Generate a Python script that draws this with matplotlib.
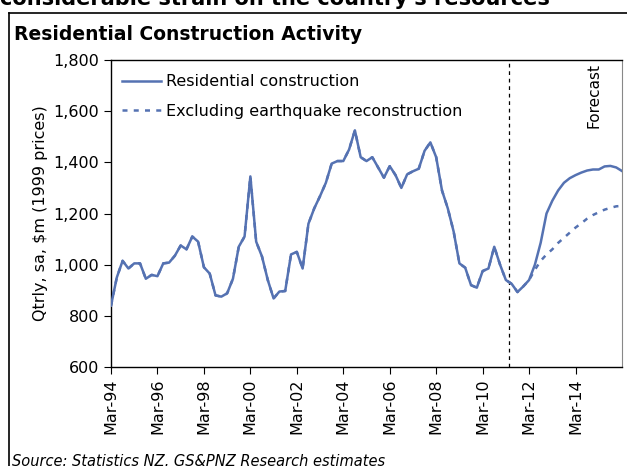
import matplotlib
matplotlib.use("Agg")
import matplotlib.pyplot as plt
from matplotlib.lines import Line2D
from matplotlib.ticker import FuncFormatter

# quarterly values, Mar-94 .. Mar-16 ($m, 1999 prices)
resid = [
    840, 950, 1015, 985, 1005, 1005, 945, 960, 955, 1005,      # 94-96
    1008, 1035, 1075, 1060, 1110, 1090, 990, 965, 880, 875,     # 96-98
    888, 945, 1070, 1110, 1345, 1090, 1032, 940, 868, 895,      # 99-01
    897, 1040, 1050, 985, 1160, 1220, 1268, 1320, 1395, 1405,   # 01-03
    1405, 1450, 1525, 1420, 1405, 1420, 1380, 1340, 1385, 1350,  # 04-06
    1300, 1353, 1365, 1375, 1445, 1478, 1420, 1290, 1220, 1130,  # 06-08
    1005, 988, 920, 910, 975, 985, 1070, 1000, 940, 925,        # 09-11
    893, 915, 940, 1000, 1086, 1200, 1250, 1290, 1320, 1338,    # 11-13
    1350, 1360, 1368, 1372, 1372, 1384, 1386, 1380, 1366,       # 14-16
]
# excluding earthquake reconstruction: same history, lower forecast path
excl_forecast = [980, 1015, 1040, 1060, 1085, 1105, 1125, 1145, 1162,
                 1180, 1194, 1205, 1215, 1222, 1228, 1230]
excl = resid[:73] + excl_forecast

tick_labels = ["Mar-94", "Mar-96", "Mar-98", "Mar-00", "Mar-02", "Mar-04",
               "Mar-06", "Mar-08", "Mar-10", "Mar-12", "Mar-14"]
forecast_start = 68.6   # quarter index of the forecast divider

quarters = list(range(len(resid)))
blue = "#5572B2"

fig = plt.figure(figsize=(6.27, 4.66), dpi=100)

# outer frame (left + top) and the cut-off page text
fig.add_artist(Line2D([9/627, 9/627], [0, 1 - 13/466], color="black", lw=1.2))
fig.add_artist(Line2D([9/627, 1], [1 - 13/466, 1 - 13/466], color="black", lw=1.2))
fig.text(0/627, 1 - 5/466, "considerable strain on the country's resources",
         fontsize=15, fontweight="bold", va="baseline", ha="left")
fig.text(14/627, 1 - 40/466, "Residential Construction Activity",
         fontsize=13.5, fontweight="bold", va="baseline", ha="left")
fig.text(12/627, 1 - 454/466, "Source: Statistics NZ, GS&PNZ Research estimates",
         fontsize=10.5, style="italic", va="top", ha="left")

ax = fig.add_axes([111/627, 1 - 367/466, 511/627, 307/466])

ax.plot(quarters, excl, color=blue, lw=1.8, linestyle=(0, (2, 2.5)),
        label="Excluding earthquake reconstruction", zorder=2)
ax.plot(quarters, resid, color=blue, lw=1.8,
        label="Residential construction", zorder=3)

ax.axvline(forecast_start, color="black", lw=0.9, linestyle=(0, (3, 3)), zorder=1)
ax.text(forecast_start + 14.5, 1790, "Forecast", rotation=90, fontsize=11,
        va="top", ha="center")

ax.set_xlim(0, 88)
ax.set_ylim(600, 1800)
ax.set_xticks(range(0, 81, 8))
ax.set_xticklabels(tick_labels, rotation=90, fontsize=11.5)
ax.set_yticks(range(600, 1801, 200))
ax.yaxis.set_major_formatter(FuncFormatter(lambda v, p: f"{int(v):,}"))
ax.tick_params(axis="y", labelsize=11.5, direction="out", length=5)
ax.tick_params(axis="x", direction="out", length=5)
ax.set_ylabel("Qtrly, sa, $m (1999 prices)", fontsize=11.5, labelpad=4)

for side in ["left", "bottom", "top"]:
    ax.spines[side].set_color("black")
    ax.spines[side].set_linewidth(1.0)
ax.spines["right"].set_color("#888888")

handles, labels = ax.get_legend_handles_labels()
ax.legend(handles[::-1], labels[::-1], loc="upper left", frameon=False,
          fontsize=11.5, handlelength=2.4, handletextpad=0.35, labelspacing=0.9,
          bbox_to_anchor=(0.0, 0.99), borderaxespad=0.3)

fig.savefig("out.png", dpi=100)
